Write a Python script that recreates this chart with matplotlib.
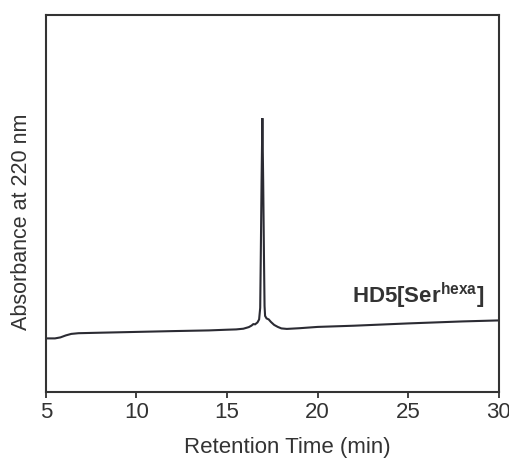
import matplotlib
matplotlib.use("Agg")
import matplotlib.pyplot as plt

# Retention time (min) and absorbance at 220 nm (arbitrary units)
time_min = [5.0, 5.5, 5.8, 6.1, 6.4, 6.8, 8.0, 10.0, 12.0, 14.0, 15.0, 15.5, 15.9,
            16.2, 16.35, 16.45, 16.55, 16.68, 16.77, 16.83, 16.86, 16.905, 16.95, 16.995,
            17.04, 17.07, 17.1, 17.18, 17.3, 17.42, 17.6, 17.8, 18.0, 18.3, 19.0,
            20.0, 22.0, 25.0, 28.0, 30.0]
absorbance = [53.5, 53.5, 54.5, 56.5, 58.0, 58.7, 59.2, 60.0, 60.8, 61.5, 62.2, 62.5, 63.2,
              64.8, 66.3, 67.8, 67.6, 69.5, 72.5, 84.0, 132.0, 210.0, 274.0, 210.0,
              132.0, 86.0, 76.0, 73.5, 72.5, 70.0, 67.0, 65.0, 63.5, 63.0, 63.7,
              65.0, 66.2, 68.5, 70.5, 71.5]
xticks = [5, 10, 15, 20, 25, 30]
sample_label = r"$\mathbf{HD5[Ser}^{\mathbf{hexa}}\mathbf{]}$"

plt.rcParams['font.family'] = ['Liberation Sans', 'DejaVu Sans']
plt.rcParams['mathtext.fontset'] = 'custom'
plt.rcParams['mathtext.rm'] = 'Liberation Sans'
plt.rcParams['mathtext.bf'] = 'Liberation Sans:bold'

ink = '#333333'
fig = plt.figure(figsize=(5.10, 4.61), dpi=100)
ax = fig.add_axes([0.090, 0.150, 0.888, 0.817])

ax.plot(time_min, absorbance, color='#2b2b33', lw=1.5, solid_joinstyle='miter')
ax.set_xlim(5, 30)
ax.set_ylim(0, 377)
ax.set_xticks(xticks)
ax.set_xticklabels([str(t) for t in xticks])
ax.set_yticks([])
ax.tick_params(axis='x', direction='out', length=4.3, width=1.3, colors=ink,
               labelsize=16, pad=3)
for s in ax.spines.values():
    s.set_linewidth(1.5)
    s.set_color(ink)

ax.set_xlabel("Retention Time (min)", fontsize=16, color=ink, va='center')
ax.xaxis.set_label_coords(0.534, -0.149)
ax.set_ylabel("Absorbance at 220 nm", fontsize=15.5, color=ink, va='center')
ax.yaxis.set_label_coords(-0.053, 0.451)

ax.text(21.87, 89, sample_label, fontsize=16, color=ink, ha='left', va='baseline')

fig.savefig("out.png", dpi=100)
